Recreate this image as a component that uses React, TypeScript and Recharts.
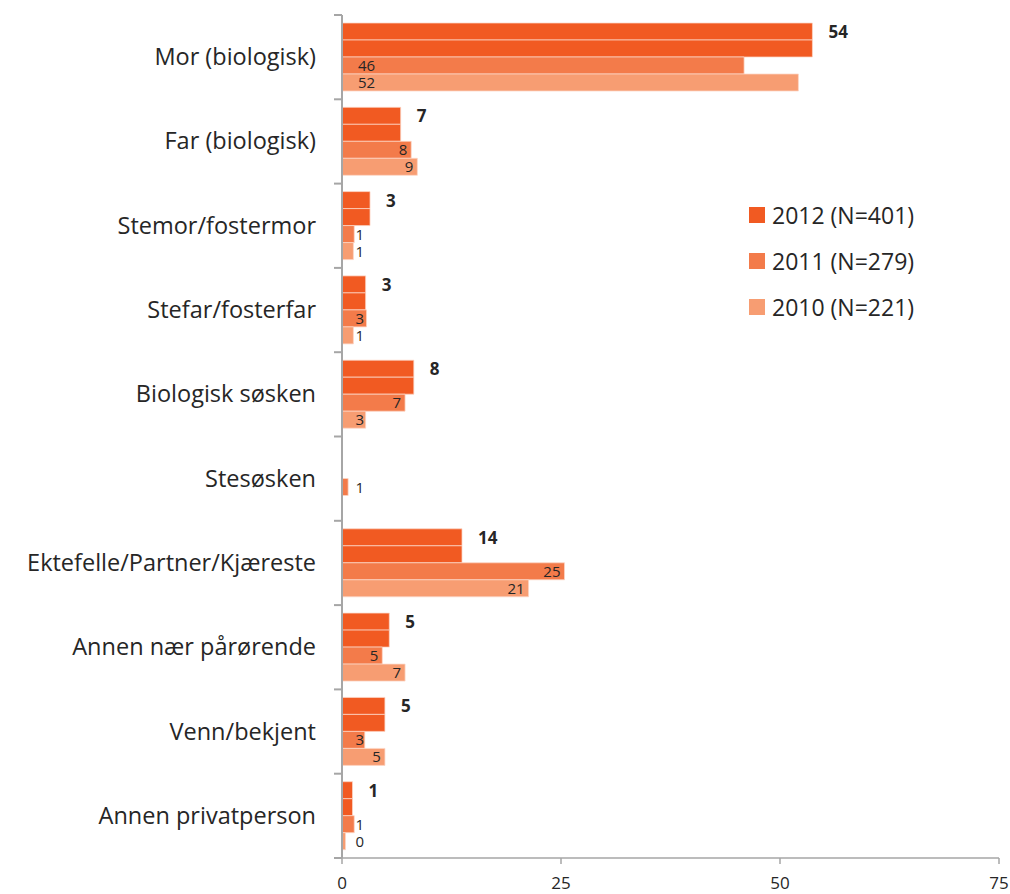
import React from 'react';
import { BarChart, Bar, XAxis, YAxis, Legend, LabelList } from 'recharts';

// categories top to bottom
const categories = [
  'Mor (biologisk)',
  'Far (biologisk)',
  'Stemor/fostermor',
  'Stefar/fosterfar',
  'Biologisk søsken',
  'Stesøsken',
  'Ektefelle/Partner/Kjæreste',
  'Annen nær pårørende',
  'Venn/bekjent',
  'Annen privatperson',
];

// percentages (labels show rounded values)
const values2012 = [53.7, 6.7, 3.2, 2.7, 8.2, null, 13.7, 5.4, 4.9, 1.2];
const values2011 = [45.9, 7.9, 1.4, 2.8, 7.2, 0.7, 25.4, 4.6, 2.6, 1.4];
const values2010 = [52.1, 8.6, 1.3, 1.3, 2.7, null, 21.3, 7.2, 4.9, 0.4];

const seriesNames = ['2012 (N=401)', '2011 (N=279)', '2010 (N=221)'];
const xTicks = [0, 25, 50, 75];

const COLORS = ['#F15A22', '#F37B4A', '#F79D72'];
const BORDER = '#FCD6C5';
const AXIS = '#A6A6A6';
const TEXT = '#262626';
const FONT = '"Open Sans", Lato, sans-serif';

const W = 1010;
const H = 894;
const MARGIN = { top: 15, right: 11, bottom: 0, left: 0 };
const Y_AXIS_W = 342;
const X_AXIS_H = 36;
const BAND = (H - MARGIN.top - MARGIN.bottom - X_AXIS_H) / categories.length;

// 2012 is drawn twice (double-height bar as in the source chart)
const tableData = categories.map((name, i) => ({
  name,
  v2012: values2012[i],
  v2012b: values2012[i],
  v2011: values2011[i],
  v2010: values2010[i],
}));

const CategoryTick = (props: any) => {
  const { y, payload, index } = props;
  const axisX = MARGIN.left + Y_AXIS_W;
  return (
    <g>
      <line x1={axisX - 8} x2={axisX} y1={y - BAND / 2} y2={y - BAND / 2} stroke={AXIS} strokeWidth={2} />
      {index === categories.length - 1 && (
        <line x1={axisX - 8} x2={axisX} y1={y + BAND / 2} y2={y + BAND / 2} stroke={AXIS} strokeWidth={2} />
      )}
      <text x={axisX - 26} y={y} dy={8} textAnchor="end" fontSize={23.5} fontFamily={FONT} fill={TEXT}>
        {payload.value}
      </text>
    </g>
  );
};

const BoldLabel = (props: any) => {
  const { x, y, width, height, value } = props;
  if (value == null) return null;
  return (
    <text x={x + width + 16} y={y + height / 2 + 6.5} fontSize={17} fontWeight="bold" fontFamily={FONT} fill={TEXT}>
      {Math.round(value)}
    </text>
  );
};

const SmallLabel = (props: any) => {
  const { x, y, width, height, value } = props;
  if (value == null) return null;
  const long = width > 300;
  const lx = long ? x + 16 : Math.max(x + width - 4, x + 22);
  return (
    <text
      x={lx}
      y={y + height / 2 + 5.5}
      textAnchor={long ? 'start' : 'end'}
      fontSize={15}
      fontFamily={FONT}
      fill={TEXT}
    >
      {Math.round(value)}
    </text>
  );
};

const LegendBox = () => (
  <div style={{ display: 'flex', flexDirection: 'column', fontFamily: FONT }}>
    {seriesNames.map((n, i) => (
      <div key={n} style={{ height: 46, display: 'flex', alignItems: 'center' }}>
        <span style={{ width: 16, height: 16, background: COLORS[i], marginRight: 7, display: 'inline-block' }} />
        <span style={{ fontSize: 23, color: TEXT, whiteSpace: 'nowrap' }}>{n}</span>
      </div>
    ))}
  </div>
);

export default function App() {
  return (
    <div style={{ position: 'absolute', left: 0, top: 0, width: W, height: H, background: '#fff', fontFamily: FONT }}>
      <BarChart
        width={W}
        height={H}
        data={tableData}
        layout="vertical"
        margin={MARGIN}
        barCategoryGap={8}
        barGap={0}
      >
        <XAxis
          type="number"
          domain={[0, 75]}
          ticks={xTicks}
          height={X_AXIS_H}
          axisLine={{ stroke: AXIS, strokeWidth: 1.5 }}
          tickLine={{ stroke: AXIS, strokeWidth: 1.5 }}
          tickSize={6}
          tickMargin={13}
          tick={{ fontSize: 17, fill: TEXT, fontFamily: FONT }}
        />
        <YAxis
          type="category"
          dataKey="name"
          width={Y_AXIS_W}
          axisLine={{ stroke: AXIS, strokeWidth: 2 }}
          tickLine={false}
          tick={<CategoryTick />}
          interval={0}
        />
        <Legend
          layout="vertical"
          align="center"
          verticalAlign="middle"
          content={<LegendBox />}
          wrapperStyle={{ left: 749, top: 192, width: 'auto', height: 'auto' }}
        />
        <Bar dataKey="v2012" fill={COLORS[0]} stroke={BORDER} strokeWidth={0.75} isAnimationActive={false}>
          <LabelList dataKey="v2012" content={<BoldLabel />} />
        </Bar>
        <Bar dataKey="v2012b" fill={COLORS[0]} stroke={BORDER} strokeWidth={0.75} isAnimationActive={false} legendType="none" />
        <Bar dataKey="v2011" fill={COLORS[1]} stroke={BORDER} strokeWidth={0.75} isAnimationActive={false}>
          <LabelList dataKey="v2011" content={<SmallLabel />} />
        </Bar>
        <Bar dataKey="v2010" fill={COLORS[2]} stroke={BORDER} strokeWidth={0.75} isAnimationActive={false}>
          <LabelList dataKey="v2010" content={<SmallLabel />} />
        </Bar>
      </BarChart>
    </div>
  );
}
